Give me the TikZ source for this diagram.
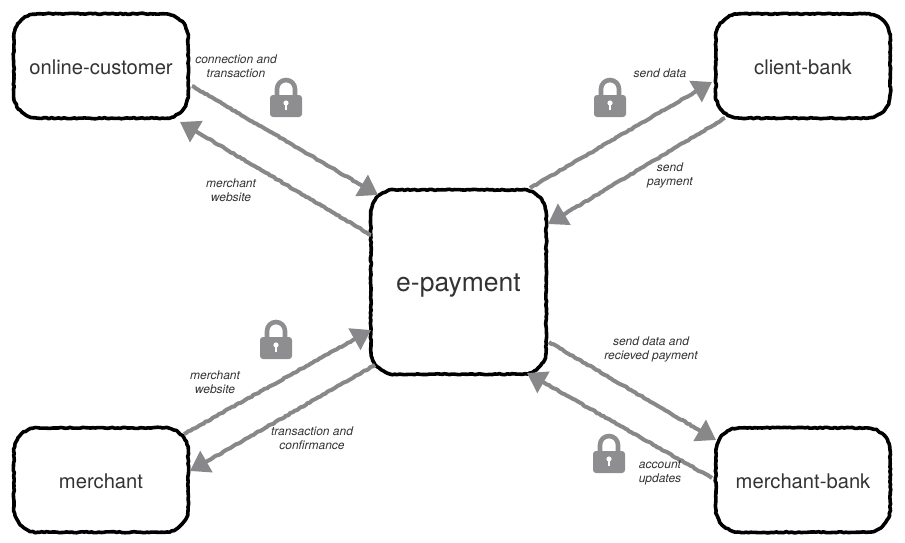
\documentclass[tikz,border=0pt]{standalone}
\usepackage{fontspec}
\setmainfont{TeX Gyre Heros}
\usetikzlibrary{arrows.meta,decorations.pathmorphing}
\definecolor{flowgray}{HTML}{88888B}
\definecolor{lockgray}{HTML}{8E8E90}
\definecolor{inkgray}{HTML}{333333}
\pgfmathsetseed{7}
\newcommand{\roughbox}[1]{%
  \draw[rough] ([xshift=24pt]#1.north west) -- ([xshift=-24pt]#1.north east)
    arc[start angle=270,end angle=360,radius=24] -- ([yshift=24pt]#1.south east)
    arc[start angle=0,end angle=90,radius=24] -- ([xshift=24pt]#1.south west)
    arc[start angle=90,end angle=180,radius=24] -- ([yshift=-24pt]#1.north west)
    arc[start angle=180,end angle=270,radius=24] -- cycle;}
\newcommand{\lowered}[2]{\raisebox{-#1}[0pt][0pt]{#2}}
\tikzset{
  x=1pt,y=-1pt,
  box/.style={inner sep=0pt,text=inkgray,font=\fontsize{20.2}{24}\selectfont},
  rough/.style={draw=black,line width=3.6pt,line join=round,line cap=round,
    decorate,decoration={random steps,segment length=2.5pt,amplitude=0.55pt}},
  flow/.style={draw=flowgray,line width=4pt,line join=round,
    -{Triangle[length=19pt,width=24pt]},
    decorate,decoration={random steps,segment length=2.5pt,amplitude=0.55pt,post=lineto,post length=21pt}},
  lbl/.style={align=center,inner sep=0pt,text=inkgray,font=\fontsize{12}{14}\selectfont\itshape},
  pics/padlock/.style={code={
    \fill[lockgray,rounded corners=3pt] (-16,-3) rectangle (16,19);
    \draw[lockgray,line width=4.6pt] (-9,-2) -- (-9,-9) arc[start angle=180,end angle=360,radius=9] -- (9,-2);
    \fill[white] (0,5) circle (2.6);
    \fill[white] (-1,6) rectangle (1,12);
  }},
}
\begin{document}
\begin{tikzpicture}
\useasboundingbox (0,0) rectangle (905,542);
\node[box,minimum width=174pt,minimum height=104pt] (customer) at (101,66) {\lowered{8.5pt}{online-customer}};
\node[box,minimum width=174pt,minimum height=104pt] (clientbank) at (803,66) {\lowered{8.5pt}{client-bank}};
\node[box,minimum width=175pt,minimum height=184pt,font=\fontsize{26.5}{30}\selectfont] (epay) at (458.5,282) {\lowered{9pt}{e-payment}};
\node[box,minimum width=174pt,minimum height=104pt] (merchant) at (101,480) {\lowered{8.5pt}{merchant}};
\node[box,minimum width=174pt,minimum height=104pt] (merchbank) at (803,480) {\lowered{8.5pt}{merchant-bank}};
\roughbox{customer}
\roughbox{clientbank}
\roughbox{epay}
\roughbox{merchant}
\roughbox{merchbank}
% free connector ends
\coordinate (a1) at (192,86);   \coordinate (a2) at (378,195);
\coordinate (b1) at (371,235);  \coordinate (b2) at (180,122);
\coordinate (c1) at (530,188);  \coordinate (c2) at (712,82);
\coordinate (d1) at (725,118);  \coordinate (d2) at (548,224);
\coordinate (e1) at (184,434);  \coordinate (e2) at (371,330);
\coordinate (f1) at (375,365);  \coordinate (f2) at (190,471);
\coordinate (g1) at (549,342);  \coordinate (g2) at (716,440);
\coordinate (h1) at (712,478);  \coordinate (h2) at (527,373);
\draw[flow] (a1) -- (a2);
\draw[flow] (b1) -- (b2);
\draw[flow] (c1) -- (c2);
\draw[flow] (d1) -- (d2);
\draw[flow] (e1) -- (e2);
\draw[flow] (f1) -- (f2);
\draw[flow] (g1) -- (g2);
\draw[flow] (h1) -- (h2);
\node[lbl] (la) at (236,66) {connection and\\transaction};
\node[lbl] (lb) at (231,190) {merchant\\website};
\node[lbl] (lc) at (660,73) {send data};
\node[lbl] (ld) at (670,175) {send\\payment};
\node[lbl] (le) at (215,382) {merchant\\website};
\node[lbl] (lf) at (312,438) {transaction and\\confirmance};
\node[lbl] (lg) at (651,349) {send data and\\recieved payment};
\node[lbl] (lh) at (660,473) {account\\updates};
\pic at (286,98) {padlock};
\pic at (610,98) {padlock};
\pic at (276,340) {padlock};
\pic at (609,454) {padlock};
\end{tikzpicture}
\end{document}
